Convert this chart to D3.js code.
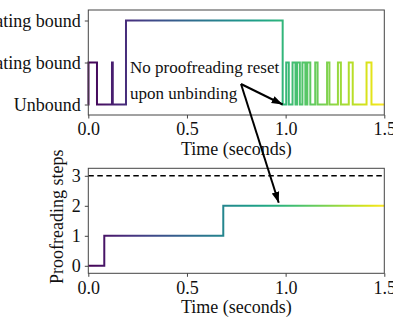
<!DOCTYPE html>
<html><head><meta charset="utf-8">
<script src="https://cdn.jsdelivr.net/npm/d3@7"></script>
<style>html,body{margin:0;padding:0;background:#fff;overflow:hidden}</style>
</head><body>
<svg id="c" width="393" height="323"></svg>
<script>
// ---- data ----
const stateLabels = ["Unbound", "Non-activating bound", "Activating bound"];
const stateTicks = [0, 1, 2];
const topTimes  = [0, 0.001, 0.044, 0.12, 0.124, 0.191, 0.985,
  1.003, 1.016, 1.035, 1.05, 1.058, 1.072, 1.085, 1.1, 1.11, 1.125,
  1.15, 1.162, 1.21, 1.222, 1.265, 1.28, 1.32, 1.34, 1.41, 1.435, 1.5];
const topStates = [0, 1, 0, 1, 0, 2, 0,
  1, 0, 1, 0, 1, 0, 1, 0, 1, 0,
  1, 0, 1, 0, 1, 0, 1, 0, 1, 0, 0];
const stepTimes  = [0, 0.081, 0.684, 1.5];
const stepValues = [0, 1, 2, 2];
const maxSteps = 3;
const xTicks = [0, 0.5, 1.0, 1.5];
const stepTicks = [0, 1, 2, 3];
const annotLines = ["No proofreading reset", "upon unbinding"];
const annotTargetTop = [0.985, 0];
const annotTargetBottom = [0.965, 2.1];

// ---- layout ----
const svg = d3.select("#c");
const font = "'Liberation Serif', 'DejaVu Serif', serif";
const x = d3.scaleLinear().domain([0, 1.5]).range([88.3, 384.3]);
const yTop = d3.scaleLinear().domain([-0.25, 2.25]).range([115, 10]);
const yBot = d3.scaleLinear().domain([-0.25, 3.25]).range([273.3, 168.3]);

// gradient
const defs = svg.append("defs");
const grad = defs.append("linearGradient").attr("id", "vir")
  .attr("gradientUnits", "userSpaceOnUse")
  .attr("x1", x(0)).attr("x2", x(1.5)).attr("y1", 0).attr("y2", 0);
d3.range(0, 1.0001, 0.05).forEach(f => {
  grad.append("stop").attr("offset", f).attr("stop-color", d3.interpolateViridis(f));
});
defs.append("marker").attr("id", "ah").attr("viewBox", "0 0 10 10")
  .attr("refX", 10).attr("refY", 5).attr("markerWidth", 11).attr("markerHeight", 11)
  .attr("markerUnits", "userSpaceOnUse").attr("orient", "auto")
  .append("path").attr("d", "M0,1.5 L10,5 L0,8.5 Z").attr("fill", "#000");

function frame(y) {
  svg.append("rect").attr("x", x.range()[0]).attr("y", y.range()[1])
    .attr("width", x.range()[1] - x.range()[0]).attr("height", y.range()[0] - y.range()[1])
    .attr("fill", "none").attr("stroke", "#444").attr("stroke-width", 1);
}
function styleAxis(g) {
  g.select(".domain").remove();
  g.selectAll(".tick line").attr("stroke", "#444");
  g.selectAll("text").attr("font-family", font).attr("font-size", 18).attr("fill", "#111");
}

// ---- top panel ----
const topData = topTimes.map((t, i) => [t, topStates[i]]);
svg.append("path").datum(topData)
  .attr("d", d3.line().x(d => x(d[0])).y(d => yTop(d[1])).curve(d3.curveStepAfter))
  .attr("fill", "none").attr("stroke", "url(#vir)").attr("stroke-width", 2);
frame(yTop);
svg.append("g").attr("transform", `translate(0,${yTop.range()[0]})`)
  .call(d3.axisBottom(x).tickValues(xTicks).tickFormat(d3.format(".1f")).tickSize(3.5).tickPadding(4))
  .call(styleAxis);
svg.append("g").attr("transform", `translate(${x.range()[0]},0)`)
  .call(d3.axisLeft(yTop).tickValues(stateTicks).tickFormat(i => stateLabels[i]).tickSize(3.5).tickPadding(4))
  .call(styleAxis);
svg.append("text").attr("x", (x.range()[0] + x.range()[1]) / 2).attr("y", 155)
  .attr("text-anchor", "middle").attr("font-family", font).attr("font-size", 18).attr("fill", "#111")
  .text("Time (seconds)");

// ---- bottom panel ----
svg.append("line").attr("x1", x(0)).attr("x2", x(1.5))
  .attr("y1", yBot(maxSteps)).attr("y2", yBot(maxSteps))
  .attr("stroke", "#000").attr("stroke-width", 1.5).attr("stroke-dasharray", "5.5,3.5");
const botData = stepTimes.map((t, i) => [t, stepValues[i]]);
svg.append("path").datum(botData)
  .attr("d", d3.line().x(d => x(d[0])).y(d => yBot(d[1])).curve(d3.curveStepAfter))
  .attr("fill", "none").attr("stroke", "url(#vir)").attr("stroke-width", 2);
frame(yBot);
svg.append("g").attr("transform", `translate(0,${yBot.range()[0]})`)
  .call(d3.axisBottom(x).tickValues(xTicks).tickFormat(d3.format(".1f")).tickSize(3.5).tickPadding(4))
  .call(styleAxis);
svg.append("g").attr("transform", `translate(${x.range()[0]},0)`)
  .call(d3.axisLeft(yBot).tickValues(stepTicks).tickFormat(d3.format("d")).tickSize(3.5).tickPadding(4))
  .call(styleAxis);
svg.append("text").attr("x", (x.range()[0] + x.range()[1]) / 2).attr("y", 313)
  .attr("text-anchor", "middle").attr("font-family", font).attr("font-size", 18).attr("fill", "#111")
  .text("Time (seconds)");
svg.append("text").attr("transform", `translate(63,${(yBot.range()[0] + yBot.range()[1]) / 2 - 4}) rotate(-90)`)
  .attr("text-anchor", "middle").attr("font-family", font).attr("font-size", 18).attr("fill", "#111")
  .text("Proofreading steps");

// ---- annotation ----
const ax0 = 241, ay0 = 84;
svg.append("line").attr("x1", ax0).attr("y1", ay0)
  .attr("x2", x(annotTargetTop[0])).attr("y2", yTop(annotTargetTop[1]))
  .attr("stroke", "#000").attr("stroke-width", 2).attr("marker-end", "url(#ah)");
svg.append("line").attr("x1", ax0).attr("y1", ay0)
  .attr("x2", x(annotTargetBottom[0])).attr("y2", yBot(annotTargetBottom[1]))
  .attr("stroke", "#000").attr("stroke-width", 2).attr("marker-end", "url(#ah)");
annotLines.forEach((s, i) => {
  svg.append("text").attr("x", 130).attr("y", 73 + i * 26)
    .attr("font-family", font).attr("font-size", 17).attr("fill", "#111").text(s);
});
</script>
</body></html>
